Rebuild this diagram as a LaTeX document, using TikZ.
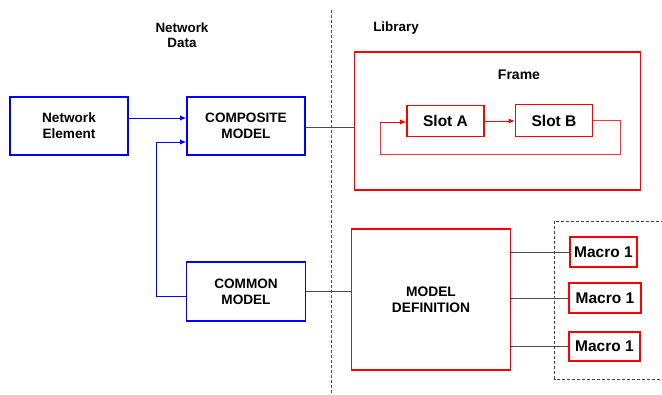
\documentclass[tikz,border=0pt]{standalone}
\usepackage{fontspec}
\setmainfont{Liberation Sans}
\usetikzlibrary{arrows.meta}
\begin{document}
\begin{tikzpicture}[x=1pt,y=-1pt,
  bluebox/.style={draw=blue,line width=1.6pt,fill=white,align=center,font=\fontsize{13.6}{16}\selectfont\bfseries,inner sep=0pt},
  redbox/.style={draw=red,line width=1.6pt,fill=white,align=center,font=\fontsize{15.5}{18}\selectfont\bfseries,inner sep=0pt},
  lbl/.style={align=center,font=\fontsize{13.4}{15.5}\selectfont\bfseries},
  conn/.style={draw=black!70,line width=0.8pt},
  bluearrow/.style={draw=blue,line width=0.8pt,-{Latex[length=6pt,width=5pt]}},
  redarrow/.style={draw=red,line width=0.8pt,-{Latex[length=6pt,width=5pt]}},
  redline/.style={draw=red!80,line width=0.7pt}]
\useasboundingbox (0,0) rectangle (662,395);
\fill[white] (0,0) rectangle (662,395);
% dashed separator
\coordinate (sepT) at (331,10);
\coordinate (sepB) at (331,395);
\draw[dashed,black!70,line width=0.7pt,dash pattern=on 3pt off 2pt] (sepT) -- (sepB);
% labels
\node[lbl] (netdata) at (182,35) {Network\\Data};
\node[lbl] (library) at (396,28) {Library};
% frame
\node[draw=red,line width=1.6pt,minimum width=286pt,minimum height=138pt,inner sep=0pt] (frame) at (497.5,121) {};
\node[lbl,font=\fontsize{14}{16}\selectfont\bfseries] (framelbl) at (519,75) {Frame};
% blue boxes
\node[bluebox,minimum width=118pt,minimum height=58pt] (ne) at (69,126) {Network\\Element};
\node[bluebox,minimum width=118pt,minimum height=58pt] (comp) at (246,126) {COMPOSITE\\MODEL};
\node[bluebox,minimum width=119pt,minimum height=59pt] (common) at (246,291.5) {COMMON\\MODEL};
% slots
\node[redbox,minimum width=77pt,minimum height=31pt] (slotA) at (445.5,121) {Slot A};
\node[redbox,minimum width=77pt,minimum height=32pt] (slotB) at (554,120.5) {Slot B};
% model definition
\node[draw=red,line width=1.6pt,minimum width=159pt,minimum height=141pt,inner sep=0pt,align=center,font=\fontsize{13.8}{16}\selectfont\bfseries] (mdef) at (431,299.5) {MODEL\\DEFINITION};
% macro dashed box (open to right edge)
\coordinate (mbTR) at (664,221);
\coordinate (mbTL) at (554.5,221);
\coordinate (mbBL) at (554.5,379);
\coordinate (mbBR) at (664,379);
\draw[black!75,line width=0.7pt,dash pattern=on 3pt off 2pt] (mbTR) -- (mbTL) -- (mbBL) -- (mbBR);
% macros
\node[redbox,minimum width=67pt,minimum height=30pt] (m1) at (603.5,252) {Macro 1};
\node[redbox,minimum width=72pt,minimum height=30pt] (m2) at (605,298) {Macro 1};
\node[redbox,minimum width=71pt,minimum height=29pt] (m3) at (604.5,346.5) {Macro 1};
% connectors
\draw[bluearrow] (ne.east |- 0,118) -- (comp.west |- 0,118);
\draw[bluearrow] (common.west |- 0,296) -| (156,142) -- (comp.west |- 0,142);
\draw[conn] (comp.east |- 0,127) -- (frame.west |- 0,127);
\draw[conn] (common.east |- 0,291) -- (mdef.west |- 0,291);
\draw[conn] (mdef.east |- m1.west) -- (m1.west);
\draw[conn] (mdef.east |- m2.west) -- (m2.west);
\draw[conn] (mdef.east |- 0,346.5) -- (m3.west |- 0,346.5);
\draw[redarrow] (slotA.east) -- (slotB.west |- slotA.east);
\draw[redline] (slotB.east) -- (620.5,120.5) -- (620.5,154.5) -- (380,154.5) -- (380,122);
\draw[redarrow] (380,122) -- (slotA.west |- 0,122);
\end{tikzpicture}
\end{document}
